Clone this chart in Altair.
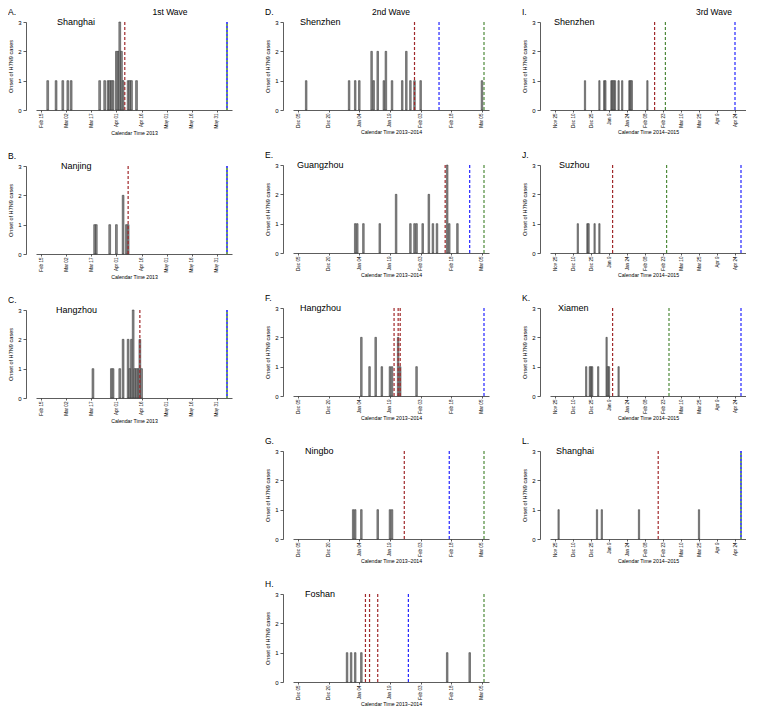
import altair as alt
import pandas as pd

FONT = "Liberation Sans"
YTITLE = "Onset of H7N9 cases"

# ---------------- axis ticks / labels / domains per wave ----------------
W1_TICKS = ["2013-02-15", "2013-03-02", "2013-03-17", "2013-04-01", "2013-04-16",
            "2013-05-01", "2013-05-16", "2013-05-31"]
W1_LABELS = ["Feb 15", "Mar 02", "Mar 17", "Apr 01", "Apr 16", "May 01", "May 16", "May 31"]
W1_DOMAIN = ["2013-02-15", "2013-06-06"]
W1_TITLE = "Calendar Time 2013"

W2_TICKS = ["2013-12-05", "2013-12-20", "2014-01-04", "2014-01-19", "2014-02-03",
            "2014-02-18", "2014-03-05"]
W2_LABELS = ["Dec 05", "Dec 20", "Jan 04", "Jan 19", "Feb 03", "Feb 18", "Mar 05"]
W2_DOMAIN = ["2013-12-05", "2014-03-06"]
W2_TITLE = "Calendar Time 2013\u20132014"

W3_TICKS = ["2014-11-25", "2014-12-10", "2014-12-25", "2015-01-09", "2015-01-24",
            "2015-02-08", "2015-02-23", "2015-03-10", "2015-03-25", "2015-04-09", "2015-04-24"]
W3_LABELS = ["Nov 25", "Dec 10", "Dec 25", "Jan 9", "Jan 24", "Feb 08", "Feb 23",
             "Mar 10", "Mar 25", "Apr 9", "Apr 24"]
W3_DOMAIN = ["2014-11-25", "2015-04-29"]
W3_TITLE = "Calendar Time 2014\u20132015"

# ---------------- case counts per panel ----------------
A_dates = ["2013-02-19", "2013-02-24", "2013-02-28", "2013-03-03", "2013-03-05", "2013-03-22",
           "2013-03-25", "2013-03-27", "2013-03-28", "2013-03-29", "2013-03-30", "2013-04-01",
           "2013-04-02", "2013-04-03", "2013-04-04", "2013-04-05", "2013-04-08", "2013-04-09",
           "2013-04-10", "2013-04-13"]
A_counts = [1, 1, 1, 1, 1, 1, 1, 1, 1, 1, 1, 2, 2, 3, 2, 1, 1, 1, 1, 1]
A_red = ["2013-04-06"]
A_blue = ["2013-06-06"]
A_green = ["2013-06-06"]

B_dates = ["2013-03-19", "2013-03-20", "2013-03-28", "2013-04-01", "2013-04-05", "2013-04-07",
           "2013-04-08"]
B_counts = [1, 1, 1, 1, 2, 1, 1]
B_red = ["2013-04-08"]
B_blue = ["2013-06-06"]
B_green = ["2013-06-06"]

C_dates = ["2013-03-18", "2013-03-29", "2013-03-30", "2013-04-03", "2013-04-05", "2013-04-08",
           "2013-04-09", "2013-04-10", "2013-04-11", "2013-04-12", "2013-04-13", "2013-04-14",
           "2013-04-15", "2013-04-16"]
C_counts = [1, 1, 1, 1, 2, 2, 1, 2, 3, 1, 1, 1, 2, 1]
C_red = ["2013-04-15"]
C_blue = ["2013-06-06"]
C_green = ["2013-06-06"]

D_dates = ["2013-12-09", "2013-12-30", "2014-01-02", "2014-01-04", "2014-01-10", "2014-01-11",
           "2014-01-13", "2014-01-16", "2014-01-17", "2014-01-20", "2014-01-25", "2014-01-27",
           "2014-01-29", "2014-01-31", "2014-02-03", "2014-03-05"]
D_counts = [1, 1, 1, 1, 2, 1, 2, 1, 2, 1, 1, 2, 1, 1, 1, 1]
D_red = ["2014-01-31"]
D_blue = ["2014-02-12"]
D_green = ["2014-03-06"]

E_dates = ["2014-01-02", "2014-01-03", "2014-01-06", "2014-01-14", "2014-01-22", "2014-01-29",
           "2014-01-31", "2014-02-01", "2014-02-04", "2014-02-07", "2014-02-09", "2014-02-11",
           "2014-02-16", "2014-02-17", "2014-02-21"]
E_counts = [1, 1, 1, 1, 2, 1, 1, 1, 1, 2, 1, 1, 3, 1, 1]
E_red = ["2014-02-15"]
E_blue = ["2014-02-27"]
E_green = ["2014-03-06"]

F_dates = ["2014-01-05", "2014-01-09", "2014-01-12", "2014-01-15", "2014-01-19", "2014-01-20",
           "2014-01-23", "2014-01-24", "2014-02-01"]
F_counts = [2, 1, 2, 1, 1, 1, 2, 1, 1]
F_red = ["2014-01-21", "2014-01-23", "2014-01-24"]
F_blue = ["2014-03-06"]
F_green = []

G_dates = ["2014-01-01", "2014-01-02", "2014-01-05", "2014-01-13", "2014-01-19", "2014-01-20"]
G_counts = [1, 1, 1, 1, 1, 1]
G_red = ["2014-01-26"]
G_blue = ["2014-02-17"]
G_green = ["2014-03-06"]

H_dates = ["2013-12-29", "2013-12-31", "2014-01-02", "2014-01-05", "2014-02-16", "2014-02-27"]
H_counts = [1, 1, 1, 1, 1, 1]
H_red = ["2014-01-07", "2014-01-09", "2014-01-13"]
H_blue = ["2014-01-28"]
H_green = ["2014-03-06"]

I_dates = ["2014-12-20", "2015-01-01", "2015-01-05", "2015-01-06", "2015-01-11", "2015-01-12",
           "2015-01-13", "2015-01-14", "2015-01-17", "2015-01-20", "2015-01-26", "2015-01-27",
           "2015-01-28", "2015-02-10"]
I_counts = [1] * 14
I_red = ["2015-02-16"]
I_blue = ["2015-04-24"]
I_green = ["2015-02-25"]

J_dates = ["2014-12-14", "2014-12-22", "2014-12-23", "2014-12-28", "2015-01-01"]
J_counts = [1, 1, 1, 1, 1]
J_red = ["2015-01-12"]
J_blue = ["2015-04-29"]
J_green = ["2015-02-26"]

K_dates = ["2014-12-21", "2014-12-24", "2014-12-25", "2014-12-26", "2014-12-31", "2015-01-07",
           "2015-01-08", "2015-01-09", "2015-01-17"]
K_counts = [1, 1, 1, 1, 1, 2, 1, 1, 1]
K_red = ["2015-01-12"]
K_blue = ["2015-04-29"]
K_green = ["2015-02-28"]

L_dates = ["2014-11-28", "2014-12-30", "2015-01-03", "2015-02-03", "2015-03-25"]
L_counts = [1, 1, 1, 1, 1]
L_red = ["2015-02-19"]
L_blue = ["2015-04-29"]
L_green = ["2015-04-29"]

# ---------------- styling ----------------
W = 196
H = 88
RED = "#a0282a"
BLUE = "#2323ff"
GREEN = "#4e8a3a"


def dt(s):
    y, m, d = (int(v) for v in s.split("-"))
    return alt.DateTime(year=y, month=m, date=d)


def label_expr(ticks, labels):
    expr = "''"
    for t, l in reversed(list(zip(ticks, labels))):
        expr = f"timeFormat(datum.value, '%Y-%m-%d') == '{t}' ? '{l}' : ({expr})"
    return expr


def panel(letter, city, city_dx, dates, counts, reds, blues, greens, wave,
          bar_w, wave_title=None, wave_dx=0):
    ticks, labels, domain, xtitle = wave
    xscale = alt.Scale(domain=[dt(domain[0]), dt(domain[1])])
    xaxis = alt.Axis(values=[dt(t) for t in ticks], labelExpr=label_expr(ticks, labels),
                     labelAngle=270, title=xtitle, labelFontSize=4.6, tickSize=2,
                     labelPadding=1, titleFontSize=5.2, titlePadding=2, grid=False,
                     labelFont=FONT, titleFont=FONT, titleFontWeight="normal")
    yscale = alt.Scale(domain=[0, 3], nice=False)
    yaxis = alt.Axis(values=[0, 1, 2, 3], format="d", title=YTITLE, offset=10, tickSize=3,
                     labelFontSize=6, labelPadding=2, titleFontSize=5.6, titlePadding=4,
                     grid=False, labelFont=FONT, titleFont=FONT, titleFontWeight="normal")

    bars_df = pd.DataFrame({"date": pd.to_datetime(dates), "n": counts})
    bars = alt.Chart(bars_df).mark_bar(
        size=bar_w, fill="#8d8d8d", stroke="#2a2a2a", strokeWidth=0.5
    ).encode(
        x=alt.X("date:T", scale=xscale, axis=xaxis),
        y=alt.Y("n:Q", scale=yscale, axis=yaxis),
    )
    layers = [bars]

    overlap = len(blues) > 0 and blues == greens

    def rules(ds, color, dash, offset=0, sw=1.2):
        df = pd.DataFrame({"date": pd.to_datetime(ds)})
        return alt.Chart(df).mark_rule(
            color=color, strokeDash=dash, strokeDashOffset=offset, strokeWidth=sw
        ).encode(
            x=alt.X("date:T", scale=xscale, axis=xaxis),
            y=alt.YDatum(3, scale=yscale, axis=yaxis, title=YTITLE),
            y2=alt.datum(0),
        )

    if reds:
        layers.append(rules(reds, RED, [3, 2]))
    if overlap:
        layers.append(rules(blues, BLUE, [2, 2], 0, 1.6))
        layers.append(rules(greens, GREEN, [2, 2], 2, 1.6))
    else:
        if blues:
            layers.append(rules(blues, BLUE, [3, 2]))
        if greens:
            layers.append(rules(greens, GREEN, [3, 2]))

    city_layer = alt.Chart(pd.DataFrame({"t": [city]})).mark_text(
        align="left", baseline="middle", fontSize=9, font=FONT, color="black"
    ).encode(text="t:N", x=alt.value(city_dx), y=alt.value(0))
    layers.append(city_layer)

    letter_layer = alt.Chart(pd.DataFrame({"t": [letter]})).mark_text(
        align="left", baseline="middle", fontSize=8.5, font=FONT, color="black"
    ).encode(text="t:N", x=alt.value(-28), y=alt.value(-10))
    layers.append(letter_layer)

    if wave_title:
        wl = alt.Chart(pd.DataFrame({"t": [wave_title]})).mark_text(
            align="center", baseline="middle", fontSize=8.5, font=FONT, color="black"
        ).encode(text="t:N", x=alt.value(wave_dx), y=alt.value(-10))
        layers.append(wl)

    return alt.layer(*layers).properties(width=W, height=H)


WAVE1 = (W1_TICKS, W1_LABELS, W1_DOMAIN, W1_TITLE)
WAVE2 = (W2_TICKS, W2_LABELS, W2_DOMAIN, W2_TITLE)
WAVE3 = (W3_TICKS, W3_LABELS, W3_DOMAIN, W3_TITLE)

pA = panel("A.", "Shanghai", 21, A_dates, A_counts, A_red, A_blue, A_green, WAVE1, 1.8, "1st Wave", 134)
pB = panel("B.", "Nanjing", 25, B_dates, B_counts, B_red, B_blue, B_green, WAVE1, 1.8)
pC = panel("C.", "Hangzhou", 20, C_dates, C_counts, C_red, C_blue, C_green, WAVE1, 1.8)

pD = panel("D.", "Shenzhen", 7, D_dates, D_counts, D_red, D_blue, D_green, WAVE2, 1.6, "2nd Wave", 98)
pE = panel("E.", "Guangzhou", 4, E_dates, E_counts, E_red, E_blue, E_green, WAVE2, 1.6)
pF = panel("F.", "Hangzhou", 7, F_dates, F_counts, F_red, F_blue, F_green, WAVE2, 1.6)
pG = panel("G.", "Ningbo", 12, G_dates, G_counts, G_red, G_blue, G_green, WAVE2, 1.6)
pH = panel("H.", "Foshan", 12, H_dates, H_counts, H_red, H_blue, H_green, WAVE2, 1.6)

pI = panel("I.", "Shenzhen", 4, I_dates, I_counts, I_red, I_blue, I_green, WAVE3, 1.3, "3rd Wave", 164)
pJ = panel("J.", "Suzhou", 9, J_dates, J_counts, J_red, J_blue, J_green, WAVE3, 1.3)
pK = panel("K.", "Xiamen", 8, K_dates, K_counts, K_red, K_blue, K_green, WAVE3, 1.3)
pL = panel("L.", "Shanghai", 6, L_dates, L_counts, L_red, L_blue, L_green, WAVE3, 1.3)

VS = 16
col1 = alt.vconcat(pA, pB, pC, spacing=VS).resolve_scale(x="independent", y="independent")
col2 = alt.vconcat(pD, pE, pF, pG, pH, spacing=VS).resolve_scale(x="independent", y="independent")
col3 = alt.vconcat(pI, pJ, pK, pL, spacing=VS).resolve_scale(x="independent", y="independent")

chart = alt.hconcat(col1, col2, col3, spacing=33).resolve_scale(
    x="independent", y="independent"
).properties(
    padding={"left": 0, "top": 0, "right": 0, "bottom": 0},
    background="white",
).configure_view(stroke=None).configure_axis(
    grid=False, labelFont=FONT, titleFont=FONT, labelColor="black", titleColor="black",
    titleFontWeight="normal", domainColor="#333333", tickColor="#333333",
    domainWidth=0.8, tickWidth=0.8
)

chart.save("out.html", embed_options={"renderer": "svg", "actions": False})
